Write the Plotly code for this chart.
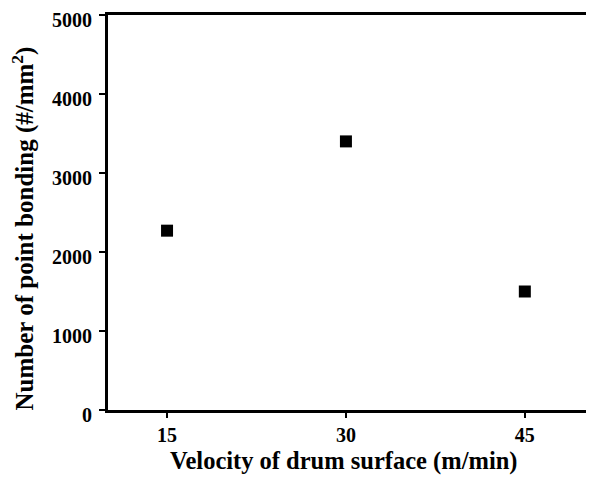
import plotly.graph_objects as go

velocity = [15, 30, 45]
bonding = [2270, 3400, 1500]
x_ticks = [15, 30, 45]
y_ticks = [0, 1000, 2000, 3000, 4000, 5000]

font_family = "Liberation Serif, Times New Roman, serif"

fig = go.Figure()
fig.add_trace(go.Scatter(
    x=velocity, y=bonding, mode="markers",
    marker=dict(symbol="square", size=12, color="black"),
    showlegend=False,
))

# browser body has an 8px default margin, so size is reduced accordingly
fig.update_layout(
    width=586, height=474,
    margin=dict(l=100, r=0, t=7, b=72, autoexpand=False),
    paper_bgcolor="white", plot_bgcolor="white",
    font=dict(family=font_family, color="black"),
)
fig.update_xaxes(
    range=[10.05, 50.8], tickvals=x_ticks, ticktext=[str(v) for v in x_ticks],
    showgrid=False, zeroline=False,
    showline=True, linecolor="black", linewidth=2.5, mirror=True,
    ticks="outside", ticklen=5, tickwidth=2, tickcolor="black",
    ticklabeloverflow="allow",
    tickfont=dict(size=20, family=font_family, weight="bold"),
)
fig.update_yaxes(
    range=[0, 5000], tickvals=y_ticks, showticklabels=False,
    showgrid=False, zeroline=False,
    showline=True, linecolor="black", linewidth=2.5,
    ticks="outside", ticklen=6, tickwidth=2, tickcolor="black",
)

# y tick labels, placed slightly below their ticks as in the reference
for v in y_ticks:
    fig.add_annotation(
        text=f"<b>{v}</b>", xref="paper", yref="y", x=0, y=v,
        xanchor="right", yanchor="middle", xshift=-14, yshift=-5,
        showarrow=False, font=dict(size=20, family=font_family, color="black"),
    )

fig.add_annotation(
    text="<b>Velocity of drum surface (m/min)</b>",
    xref="paper", yref="paper", x=0.5, y=0, xshift=-8, yshift=-51,
    xanchor="center", yanchor="middle", showarrow=False,
    font=dict(size=24.5, family=font_family, color="black"),
)
fig.add_annotation(
    text="<b>Number of point bonding (#/mm<sup>2</sup>)</b>",
    xref="paper", yref="paper", x=0, y=0.5, xshift=-85, yshift=-16,
    xanchor="center", yanchor="middle", textangle=-90, showarrow=False,
    font=dict(size=25, family=font_family, color="black"),
)

fig.write_html("out.html")
